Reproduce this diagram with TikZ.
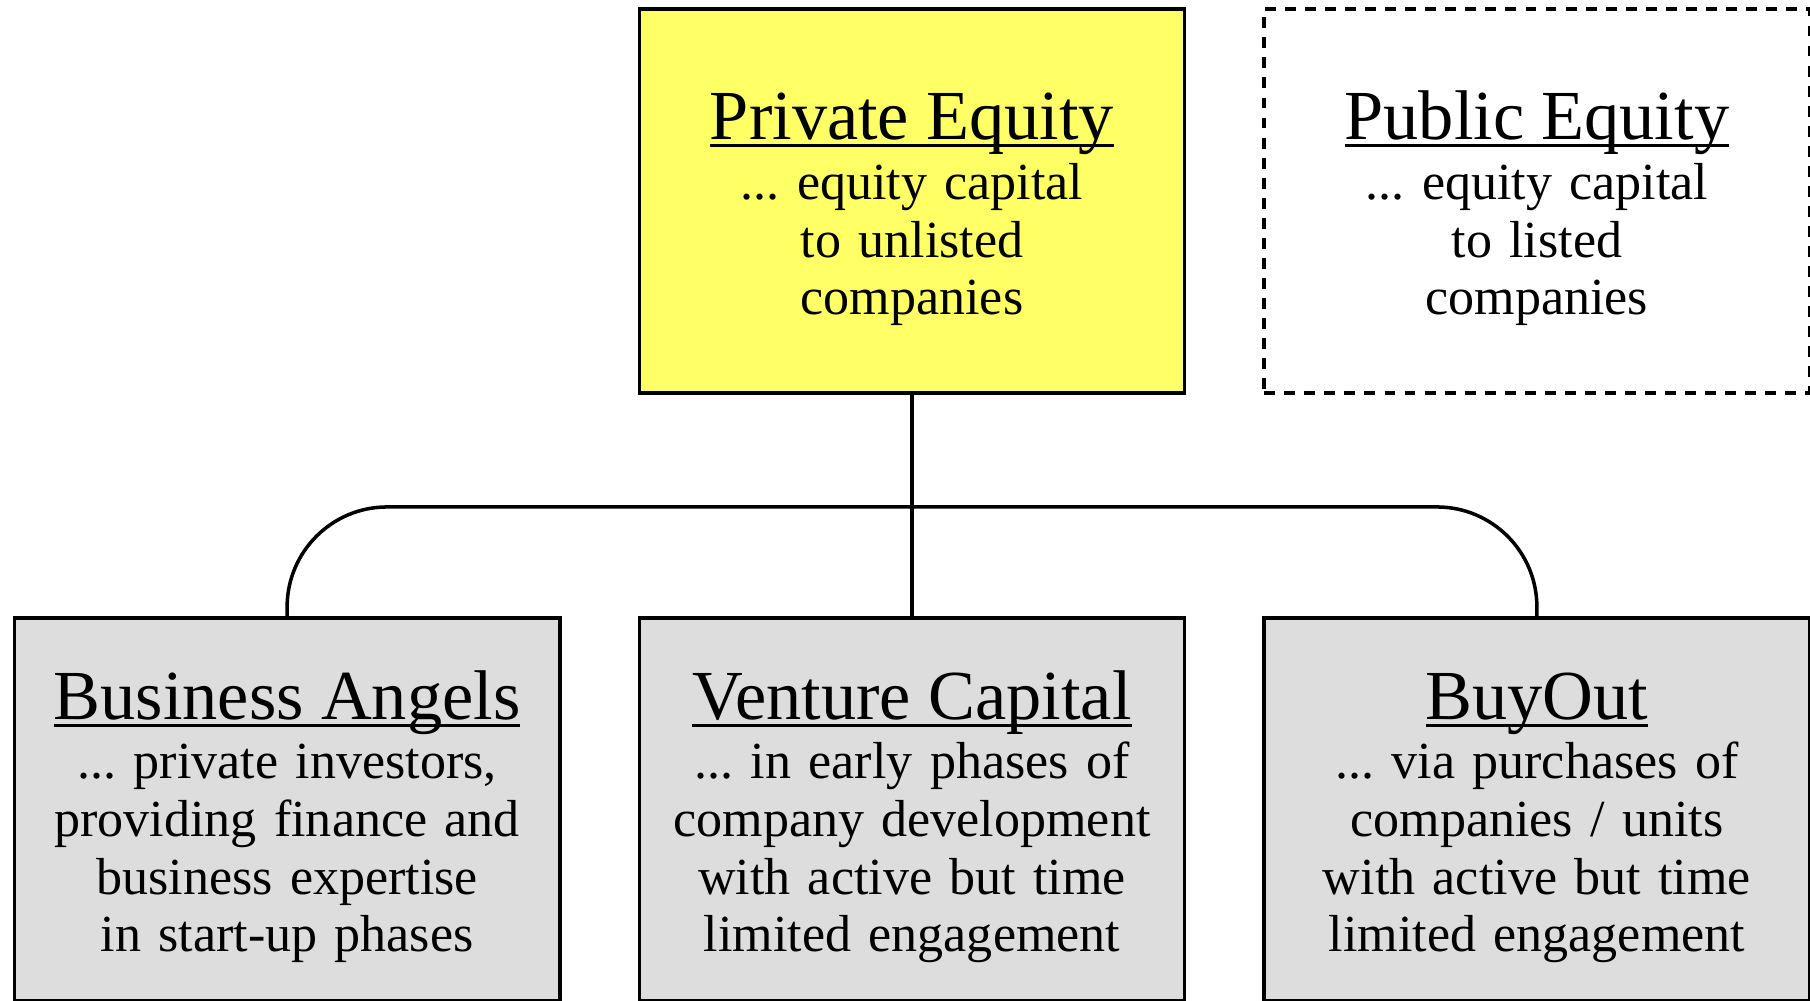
\documentclass[tikz,border=0pt]{standalone}
\usepackage{fontspec}
\setmainfont{Liberation Serif}
\frenchspacing
\usetikzlibrary{positioning}
\definecolor{peyellow}{RGB}{255,255,102}
\definecolor{pegray}{RGB}{221,221,221}
\tikzset{
    box/.style={rectangle, draw, line width=1pt, fill=#1, minimum width=5.45cm,
        text width=5.2cm, align=center, inner sep=0pt,
        font=\fontsize{14.8}{16.4}\selectfont},
    box1/.style={box=peyellow, minimum height=3.84cm},
    box2/.style={box=white, minimum height=3.84cm, dash pattern=on 3.1pt off 2.6pt},
    box3/.style={box=pegray, minimum height=3.83cm},
    link/.style={line width=1pt},
}
\newcommand{\heading}[1]{{\fontsize{20}{22}\selectfont\setbox0\hbox{#1}%
    \rule{0pt}{18pt}\rlap{\rule[-2.2pt]{\wd0}{0.9pt}}\box0}\\[0.6pt]}

\begin{document}
\begin{tikzpicture}[x=0.01cm,y=0.01cm]
      \clip (0,0) rectangle (1810,-1000);
      % top row
      \node[box1] (pe) at (912,-201) {\heading{Private Equity}... equity capital\\to unlisted\\companies};
      \node[box2, right=0.76cm of pe] (pub) {\heading{Public Equity}... equity capital\\to listed\\companies};

      % bottom row
      \node[box3, below=2.21cm of pe] (vc) {\heading{Venture Capital}... in early phases of\\company development\\with active but time\\limited engagement};
      \node[box3, left=0.76cm of vc] (ba) {\heading{Business Angels}... private investors,\\providing finance and\\business expertise\\in start-up phases};
      \node[box3, right=0.76cm of vc] (bo) {\heading{BuyOut}... via purchases of\\companies / units\\with active but time\\limited engagement};

      \coordinate[below=1.12cm of pe.south] (hub);
      \draw[link] (pe.south) -- (vc.north);
      \draw[link, rounded corners=1cm] (ba.north) |- (hub) -| (bo.north);
\end{tikzpicture}
\end{document}
